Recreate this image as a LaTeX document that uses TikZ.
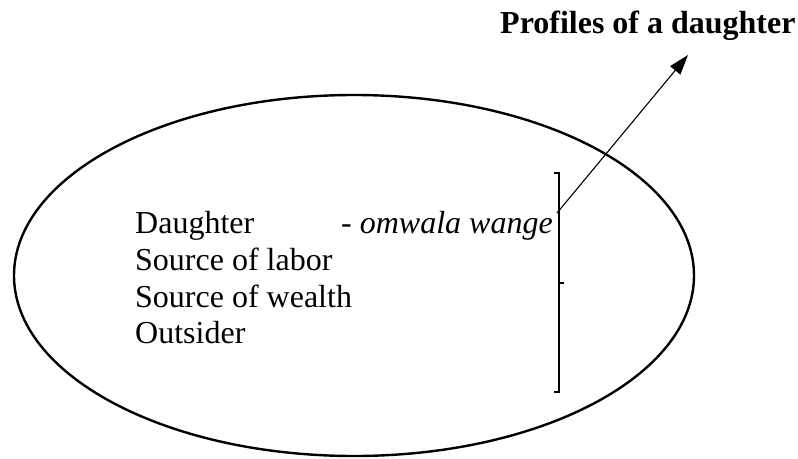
\documentclass[tikz,border=0pt]{standalone}
\usepackage{fontspec}
\setmainfont{Liberation Serif}
\usetikzlibrary{arrows.meta}
\begin{document}
\begin{tikzpicture}[x=1pt,y=-1pt,
  lbl/.style={anchor=base west,inner sep=0pt,font=\fontsize{32}{37}\selectfont},
  ttl/.style={anchor=base west,inner sep=0pt,font=\fontsize{32}{37}\selectfont\bfseries},
  thinline/.style={line width=1.1pt},
  oval/.style={line width=2.4pt}]
\useasboundingbox (0,0) rectangle (798,458);
\draw[oval] (354,275.5) ellipse [x radius=340, y radius=180.5];
\node[ttl] (title) at (500,33) {Profiles of a daughter};
\node[lbl] (d1) at (135,233) {Daughter};
\node[lbl] (d1b) at (341,233) {- \textit{omwala wange}};
\node[lbl] (d2) at (135,270) {Source of labor};
\node[lbl] (d3) at (135,307) {Source of wealth};
\node[lbl] (d4) at (135,343) {Outsider};
\coordinate (bt) at (559,173);
\coordinate (bb) at (559,392);
\coordinate (bm) at (559,283);
\draw[thinline] ([xshift=-5pt]bt) -- (bt) -- (bb) -- ([xshift=-5pt]bb);
\draw[thinline] (bm) -- ([xshift=5pt]bm);
\coordinate (from) at (557,213);
\coordinate (tip) at (688,55);
\draw[thinline,-{Triangle[length=20pt,width=13pt]}] (from) -- (tip);
\end{tikzpicture}
\end{document}
